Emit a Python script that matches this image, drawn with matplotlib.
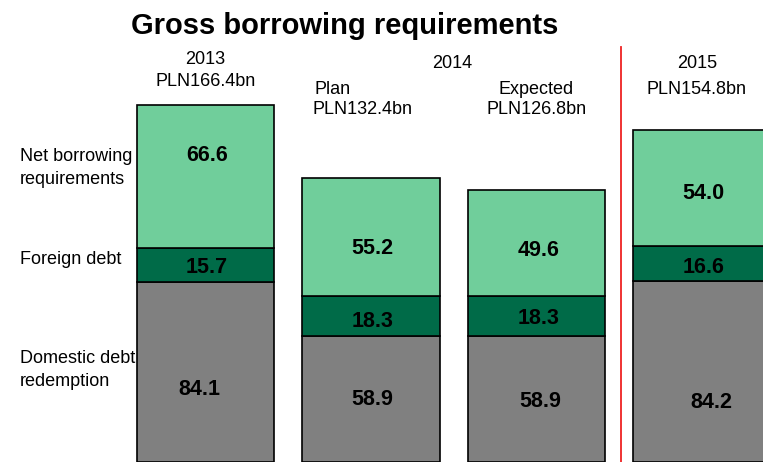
import matplotlib
matplotlib.use("Agg")
from matplotlib import pyplot as plt

plt.rcParams['font.family'] = ['Liberation Sans', 'DejaVu Sans']

# gross borrowing requirements, PLN bn
columns = ["2013", "2014 plan", "2014 expected", "2015"]
domestic = [84.1, 58.9, 58.9, 84.2]
foreign = [15.7, 18.3, 18.3, 16.6]
net = [66.6, 55.2, 49.6, 54.0]
totals = [166.4, 132.4, 126.8, 154.8]

segment_names = ["Net borrowing\nrequirements", "Foreign debt", "Domestic debt\nredemption"]

light_green = "#70ce9b"
dark_green = "#006b48"
grey = "#808080"

fig = plt.figure(figsize=(7.63, 4.62), dpi=100)
ax = fig.add_axes([0, 0, 1, 1])
ax.set_xlim(-1.242, 3.369)
ax.set_ylim(0, 215.4)
ax.axis("off")

x = list(range(len(columns)))
w = 0.83
ax.bar(x, domestic, w, color=grey, edgecolor="black", linewidth=1.2)
ax.bar(x, foreign, w, bottom=domestic, color=dark_green, edgecolor="black", linewidth=1.2)
base2 = [d + f for d, f in zip(domestic, foreign)]
ax.bar(x, net, w, bottom=base2, color=light_green, edgecolor="black", linewidth=1.2)

# value labels inside the segments (nudged a bit off centre)
lbl = dict(ha="center", va="center", fontsize=15.5, fontweight="bold", color="black")
net_dy = [9.8, -5.2, -3.2, -2.7]
for_dy = [-1.2, -2.7, -1.2, -1.7]
dom_dy = [-8.2, -0.2, -1.2, -14.2]
dom_dx = [-0.04, 0.01, 0.02, 0.06]
for i in x:
    ax.text(i + dom_dx[i], domestic[i] / 2 + dom_dy[i], f"{domestic[i]:.1f}", **lbl)
    ax.text(i + 0.01, domestic[i] + foreign[i] / 2 + for_dy[i], f"{foreign[i]:.1f}", **lbl)
    ax.text(i + 0.01, base2[i] + net[i] / 2 + net_dy[i], f"{net[i]:.1f}", **lbl)

# separator before 2015
ax.plot([2.51, 2.51], [0, (462 - 47) / 2.145], color="#ee2222", linewidth=1.3)

# column headers
hdr = dict(ha="center", va="center", fontsize=13)
yf = lambda px: 1 - px / 462
tr = ax.get_xaxis_transform()
ax.text(0, yf(60), "2013", transform=tr, **hdr)
ax.text(0, yf(82), f"PLN{totals[0]}bn", transform=tr, **hdr)
ax.text(1.49, yf(64), "2014", transform=tr, **hdr)
ax.text(0.66, yf(90), "Plan", transform=tr, ha="left", va="center", fontsize=13)
ax.text(0.95, yf(110), f"PLN{totals[1]}bn", transform=tr, **hdr)
ax.text(2.0, yf(90), "Expected", transform=tr, **hdr)
ax.text(2.0, yf(110), f"PLN{totals[2]}bn", transform=tr, **hdr)
ax.text(2.97, yf(64), "2015", transform=tr, **hdr)
ax.text(2.97, yf(90), f"PLN{totals[3]}bn", transform=tr, **hdr)

# row labels on the left
side = dict(ha="left", va="center", fontsize=13, linespacing=1.5)
fig.text(20 / 763, yf(168), segment_names[0], **side)
fig.text(20 / 763, yf(260), segment_names[1], **side)
fig.text(20 / 763, yf(370), segment_names[2], **side)

fig.text(345 / 763, yf(26), "Gross borrowing requirements", ha="center", va="center",
         fontsize=21, fontweight="bold")

fig.savefig("out.png", dpi=100)
